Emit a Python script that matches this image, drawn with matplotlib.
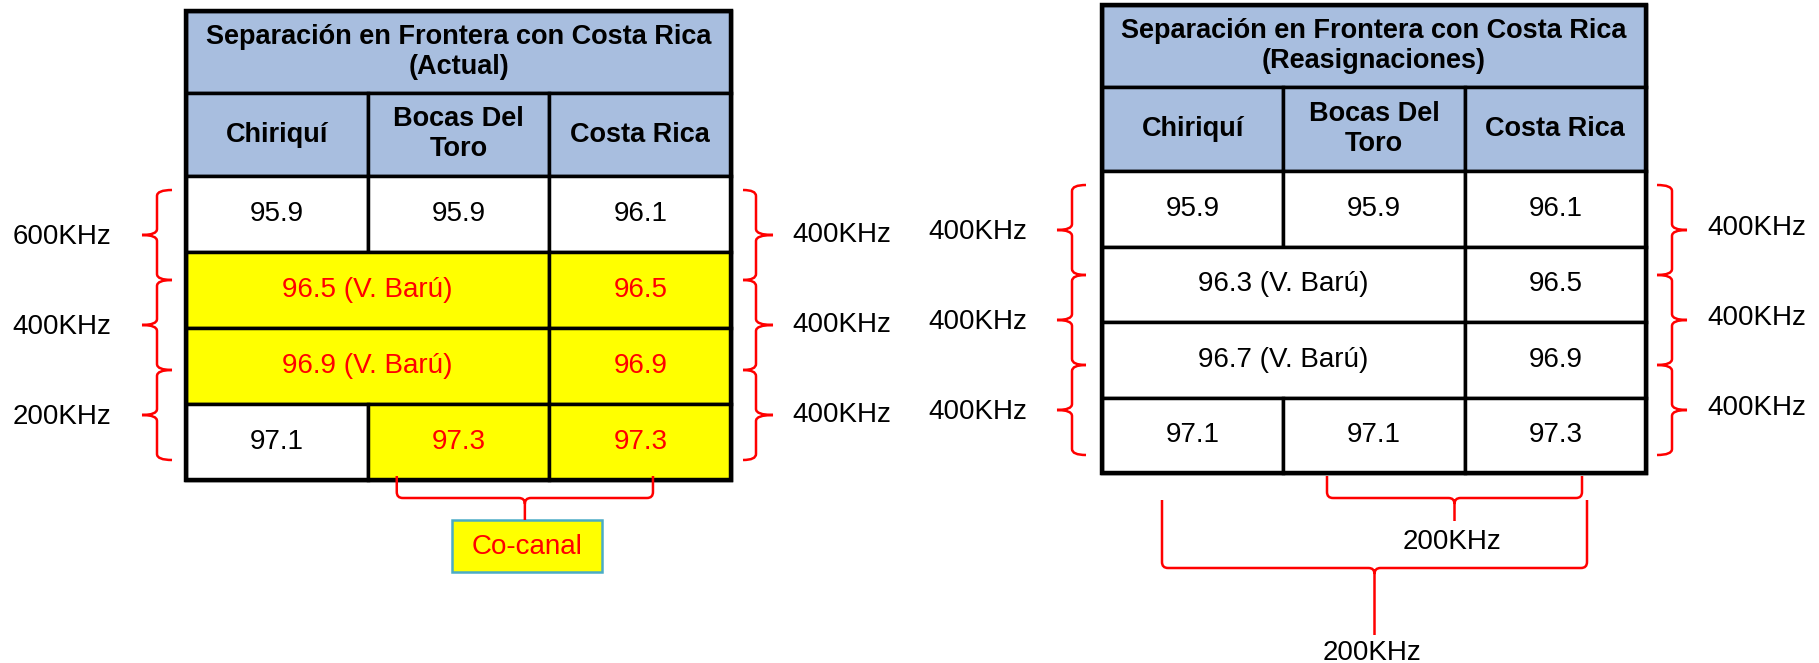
import matplotlib.pyplot as plt
from matplotlib.patches import Rectangle, PathPatch
from matplotlib.path import Path

plt.rcParams['font.family'] = ['Liberation Sans', 'DejaVu Sans']

# Datos de las tablas
columnas = ['Chiriquí', 'Bocas Del\nToro', 'Costa Rica']
titulo_actual = 'Separación en Frontera con Costa Rica\n(Actual)'
titulo_reasig = 'Separación en Frontera con Costa Rica\n(Reasignaciones)'

# None = celda combinada con la anterior
valores_actual = [
    ['95.9', '95.9', '96.1'],
    ['96.5 (V. Barú)', None, '96.5'],
    ['96.9 (V. Barú)', None, '96.9'],
    ['97.1', '97.3', '97.3'],
]
resaltado_actual = [
    [0, 0, 0],
    [1, 1, 1],
    [1, 1, 1],
    [0, 1, 1],
]
valores_reasig = [
    ['95.9', '95.9', '96.1'],
    ['96.3 (V. Barú)', None, '96.5'],
    ['96.7 (V. Barú)', None, '96.9'],
    ['97.1', '97.1', '97.3'],
]
resaltado_reasig = [[0, 0, 0]] * 4

# Separaciones indicadas con llaves
sep_izq_actual = ['600KHz', '400KHz', '200KHz']
sep_der_actual = ['400KHz', '400KHz', '400KHz']
sep_izq_reasig = ['400KHz', '400KHz', '400KHz']
sep_der_reasig = ['400KHz', '400KHz', '400KHz']
etiqueta_cocanal = 'Co-canal'
sep_abajo_reasig = ['200KHz', '200KHz']

AZUL = '#A8BEDF'
AMARILLO = '#FFFF00'
ROJO = '#FF0000'
FS = 20
FS_B = 19.5


def llave_v(ax, x_punta, x_eje, x_medio, y0, y1, r=6):
    ym = (y0 + y1) / 2
    verts = [(x_punta, y0), (x_eje, y0), (x_eje, y0 + r),
             (x_eje, ym - r), (x_eje, ym), (x_medio, ym),
             (x_eje, ym), (x_eje, ym + r),
             (x_eje, y1 - r), (x_eje, y1), (x_punta, y1)]
    codes = [Path.MOVETO, Path.CURVE3, Path.CURVE3,
             Path.LINETO, Path.CURVE3, Path.CURVE3,
             Path.CURVE3, Path.CURVE3,
             Path.LINETO, Path.CURVE3, Path.CURVE3]
    ax.add_patch(PathPatch(Path(verts, codes), fc='none', ec=ROJO, lw=1.8, zorder=5))


def llave_h(ax, x0, x1, y_arriba, y_linea, y_punta, r=6):
    xm = (x0 + x1) / 2
    verts = [(x0, y_arriba), (x0, y_linea - r), (x0, y_linea), (x0 + r, y_linea),
             (xm - r, y_linea), (xm, y_linea), (xm, y_linea + r), (xm, y_punta),
             (xm, y_linea + r), (xm, y_linea), (xm + r, y_linea),
             (x1 - r, y_linea), (x1, y_linea), (x1, y_linea - r), (x1, y_arriba)]
    codes = [Path.MOVETO, Path.LINETO, Path.CURVE3, Path.CURVE3,
             Path.LINETO, Path.CURVE3, Path.CURVE3, Path.LINETO,
             Path.MOVETO, Path.CURVE3, Path.CURVE3,
             Path.LINETO, Path.CURVE3, Path.CURVE3, Path.LINETO]
    ax.add_patch(PathPatch(Path(verts, codes), fc='none', ec=ROJO, lw=1.8, zorder=5))


def dibujar_tabla(ax, x0, top, col_w, title_h, head_h, row_h, titulo, valores, resaltado):
    ancho = 3 * col_w
    ax.add_patch(Rectangle((x0, top), ancho, title_h, fc=AZUL, ec='black', lw=2.5))
    ax.text(x0 + ancho / 2, top + title_h / 2, titulo, ha='center', va='center',
            fontsize=FS_B, fontweight='bold', linespacing=1.15)
    y = top + title_h
    for j, c in enumerate(columnas):
        ax.add_patch(Rectangle((x0 + j * col_w, y), col_w, head_h, fc=AZUL, ec='black', lw=2.5))
        ax.text(x0 + (j + 0.5) * col_w, y + head_h / 2, c, ha='center', va='center',
                fontsize=FS_B, fontweight='bold', linespacing=1.2)
    y += head_h
    for i, fila in enumerate(valores):
        j = 0
        while j < 3:
            span = 1
            while j + span < 3 and fila[j + span] is None:
                span += 1
            hl = resaltado[i][j]
            ax.add_patch(Rectangle((x0 + j * col_w, y), span * col_w, row_h,
                                   fc=AMARILLO if hl else 'white', ec='black', lw=2.5))
            ax.text(x0 + (j + span / 2) * col_w, y + row_h / 2, fila[j], ha='center',
                    va='center', fontsize=FS, color=ROJO if hl else 'black')
            j += span
        y += row_h
    ax.add_patch(Rectangle((x0, top), ancho, y - top, fc='none', ec='black', lw=3.2, zorder=4))
    return top + title_h + head_h


fig = plt.figure(figsize=(18.19, 6.63), dpi=100)
ax = fig.add_axes([0, 0, 1, 1])
ax.set_xlim(0, 1819)
ax.set_ylim(663, 0)
ax.axis('off')

# Tabla izquierda (actual)
xa, cwa = 186, 181.7
ya = dibujar_tabla(ax, xa, 11, cwa, 82, 83, 76, titulo_actual, valores_actual, resaltado_actual)
for k in range(3):
    y0 = ya + 14 + k * 90
    llave_v(ax, 172, 157, 142, y0, y0 + 90)
    llave_v(ax, 743, 756, 773, y0, y0 + 90)
    ax.text(111, y0 + 47, sep_izq_actual[k], ha='right', va='center', fontsize=FS)
    ax.text(792, y0 + 45, sep_der_actual[k], ha='left', va='center', fontsize=FS)

fondo_a = ya + 4 * 76
llave_h(ax, xa + 1.16 * cwa, xa + 2.57 * cwa, fondo_a - 4, fondo_a + 18, fondo_a + 40)
ax.add_patch(Rectangle((452, 520), 150, 52, fc=AMARILLO, ec='#4BACC6', lw=1.8))
ax.text(527, 547, etiqueta_cocanal, ha='center', va='center', fontsize=FS, color=ROJO)

# Tabla derecha (reasignaciones)
xr, cwr = 1102, 181.3
yr = dibujar_tabla(ax, xr, 5, cwr, 82, 84, 75.5, titulo_reasig, valores_reasig, resaltado_reasig)
for k in range(3):
    y0 = yr + 14 + k * 90
    llave_v(ax, 1086, 1072, 1057, y0, y0 + 90)
    llave_v(ax, 1657, 1672, 1687, y0, y0 + 90)
    ax.text(1027, y0 + 47, sep_izq_reasig[k], ha='right', va='center', fontsize=FS)
    ax.text(1707, y0 + 43, sep_der_reasig[k], ha='left', va='center', fontsize=FS)

fondo_r = yr + 4 * 75.5
llave_h(ax, 1327, 1582, fondo_r + 3, fondo_r + 25, fondo_r + 48)
ax.text(1452, fondo_r + 69, sep_abajo_reasig[0], ha='center', va='center', fontsize=FS)
llave_h(ax, 1162, 1587, fondo_r + 27, fondo_r + 95, fondo_r + 162)
ax.text(1372, fondo_r + 180, sep_abajo_reasig[1], ha='center', va='center', fontsize=FS)

fig.savefig('out.png', dpi=100)
